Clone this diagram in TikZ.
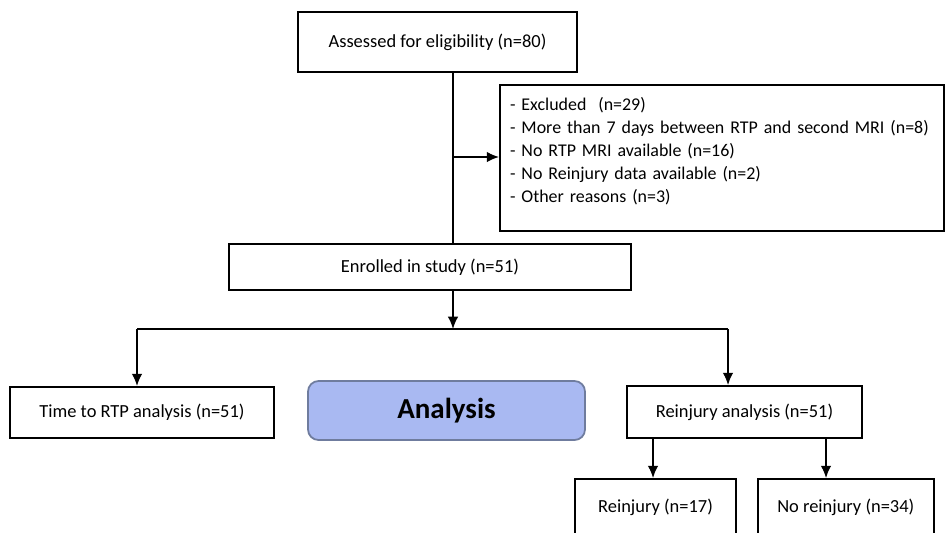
\documentclass[tikz,border=0pt]{standalone}
\usepackage{fontspec}
\setmainfont{Carlito}
\usepackage{tikz}
\usetikzlibrary{positioning,arrows.meta}
\usepackage{xcolor}
\definecolor{anafill}{HTML}{A9B9F2}
\definecolor{anadraw}{HTML}{6F7C9E}

\begin{document}
\begin{tikzpicture}[%
    ->,>={Latex[length=7pt,width=6pt]},line width=1pt,font=\fontsize{10.5}{13}\selectfont,
    stepbox/.style={%
      rectangle,draw,-,line width=1pt,inner sep=0pt,fill=white},
    anabox/.style={%
      rectangle,rounded corners=6pt,draw=anadraw,fill=anafill,-,line width=1pt,
      font=\fontsize{16.5}{19}\selectfont\bfseries}
  ]
    \useasboundingbox (0,0) rectangle (18.92,-10.64);
    \node[stepbox,minimum width=5.58cm,minimum height=1.2cm] (assess) at (8.75,-0.84)
      {Assessed for eligibility (n=80)};
    \node[stepbox,minimum width=8.88cm,minimum height=2.92cm,align=left,
      text width=8.48cm,inner xsep=0.2cm,font=\fontsize{10.2}{13}\selectfont] (excl) at (14.44,-3.16)
      {- Excluded\ \ (n=29)\\
       \mbox{- More than 7 days between RTP and second MRI (n=8)}\\
       - No RTP MRI available (n=16)\\
       - No Reinjury data available (n=2)\\
       - Other reasons (n=3)\\[-4pt]\mbox{}};
    \node[stepbox,minimum width=8.04cm,minimum height=0.92cm] (enrol) at (8.6,-5.34)
      {Enrolled in study (n=51)};
    \node[stepbox,minimum width=5.28cm,minimum height=1.02cm] (rtp) at (2.84,-8.25)
      {Time to RTP analysis (n=51)};
    \node[anabox,minimum width=5.54cm,minimum height=1.18cm] (ana) at (8.93,-8.21)
      {Analysis};
    \node[stepbox,minimum width=4.7cm,minimum height=1.04cm] (reana) at (14.89,-8.24)
      {Reinjury analysis (n=51)};
    \node[stepbox,minimum width=3.22cm,minimum height=1.12cm] (rein) at (13.11,-10.14)
      {Reinjury (n=17)};
    \node[stepbox,minimum width=3.52cm,minimum height=1.12cm] (norein) [right=0.4cm of rein]
      {No reinjury (n=34)};

    % spine and exclusion
    \coordinate (split) at (9.06,-3.14);
    \coordinate (fork) at (9.06,-6.58);
    \draw[-] (assess.south -| split) -- (enrol.north -| split);
    \draw (split) -- (excl.west |- split);

    % branches
    \draw (enrol.south -| fork) -- (fork);
    \draw[-] (2.74,-6.58) -- (14.56,-6.58);
    \draw (2.74,-6.58) -- (2.74,-6.58 |- rtp.north);
    \draw (14.56,-6.58) -- (14.56,-6.58 |- reana.north);
    \draw (13.06,-6.58 |- reana.south) -- (13.06,-6.58 |- rein.north);
    \draw (16.52,-6.58 |- reana.south) -- (16.52,-6.58 |- norein.north);
\end{tikzpicture}
\end{document}
